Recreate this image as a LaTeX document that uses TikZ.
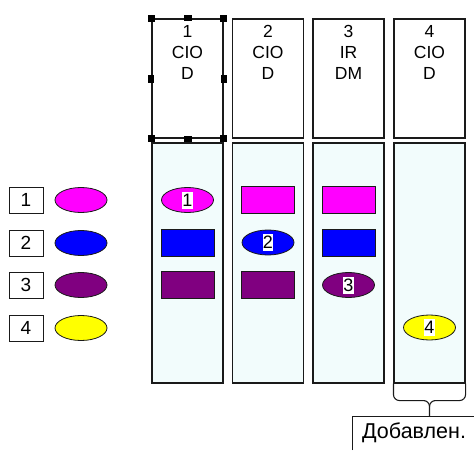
\documentclass[tikz,border=0pt]{standalone}
\usepackage{fontspec}
\setmainfont{Liberation Sans}
\usetikzlibrary{shapes.geometric,calc}
\definecolor{colfill}{HTML}{F2FCFC}
\definecolor{cmag}{HTML}{FF00FF}
\definecolor{cblue}{HTML}{0000FF}
\definecolor{cpurp}{HTML}{800080}
\definecolor{cyel}{HTML}{FFFF00}
\definecolor{lnc}{HTML}{1A1A1A}
\tikzset{
  hdrbox/.style={draw=lnc,line width=1.1pt,minimum width=71pt,minimum height=119pt,inner sep=0pt},
  hdrtext/.style={anchor=north,inner sep=0pt,align=center,font=\fontsize{17.5}{21}\selectfont},
  colbox/.style={draw=lnc,line width=1.1pt,fill=colfill,minimum width=71pt,minimum height=240pt,inner sep=0pt},
  legbox/.style={draw=lnc,line width=0.9pt,minimum width=34pt,minimum height=26pt,inner sep=0pt,font=\fontsize{19}{19}\selectfont},
  oval/.style={ellipse,draw=lnc,line width=0.8pt,minimum width=52pt,minimum height=25pt,inner sep=0pt},
  blk/.style={draw=lnc,line width=0.9pt,minimum width=53pt,minimum height=27pt,inner sep=0pt},
  numtag/.style={fill=white,inner sep=0pt,minimum width=10pt,minimum height=17pt,font=\fontsize{18}{18}\selectfont},
  handle/.style={fill=black,inner sep=0pt,minimum width=7pt,minimum height=7pt},
  mhandle/.style={fill=black,inner sep=0pt,minimum width=8pt,minimum height=6pt},
}
\begin{document}
\begin{tikzpicture}[x=1pt,y=-1pt]
\useasboundingbox (0,0) rectangle (474,450);
% header boxes
\node[hdrbox] (h1) at (187.5,78.5) {};
\node[hdrbox] (h2) at (268,78.5) {};
\node[hdrbox] (h3) at (348.5,78.5) {};
\node[hdrbox] (h4) at (429.5,78.5) {};
\node[hdrtext] (t1) at (187.5,25) {1\\CIO\\D};
\node[hdrtext] (t2) at (268,25) {2\\CIO\\D};
\node[hdrtext] (t3) at (348.5,25) {3\\IR\\DM};
\node[hdrtext] (t4) at (429.5,25) {4\\CIO\\D};
% selection handles
\node[handle] (s1) at (h1.north west) {};
\node[handle] (s2) at (h1.north east) {};
\node[handle] (s3) at (h1.south west) {};
\node[handle] (s4) at (h1.south east) {};
\node[mhandle] (s5) at (h1.north) {};
\node[mhandle] (s6) at (h1.south) {};
\node[mhandle,minimum width=6pt,minimum height=8pt] (s7) at (h1.west) {};
\node[mhandle,minimum width=6pt,minimum height=8pt] (s8) at (h1.east) {};
% columns
\node[colbox] (c1) at (187.5,263) {};
\node[colbox] (c2) at (268,263) {};
\node[colbox] (c3) at (348.5,263) {};
\node[colbox] (c4) at (429.5,263) {};
% legend
\node[legbox] (l1) at (26,200) {1};
\node[legbox] (l2) at (26,243) {2};
\node[legbox] (l3) at (26,285) {3};
\node[legbox] (l4) at (26,328) {4};
\node[oval,fill=cmag] (e1) at (81,200) {};
\node[oval,fill=cblue] (e2) at (81,243) {};
\node[oval,fill=cpurp] (e3) at (81,285) {};
\node[oval,fill=cyel] (e4) at (81,328) {};
% column 1
\node[oval,fill=cmag] (a1) at (187.5,200) {};
\node[numtag] (n1) at (a1) {1};
\node[blk,fill=cblue] (a2) at (187.5,242.5) {};
\node[blk,fill=cpurp] (a3) at (187.5,285) {};
% column 2
\node[blk,fill=cmag] (b1) at (268,200) {};
\node[oval,fill=cblue] (b2) at (268,242.5) {};
\node[numtag] (n2) at (b2) {2};
\node[blk,fill=cpurp] (b3) at (268,285) {};
% column 3
\node[blk,fill=cmag] (d1) at (348.5,200) {};
\node[blk,fill=cblue] (d2) at (348.5,242.5) {};
\node[oval,fill=cpurp] (d3) at (348.5,285) {};
\node[numtag] (n3) at (d3) {3};
% column 4
\node[oval,fill=cyel] (f4) at (429.5,327.5) {};
\node[numtag] (n4) at (f4) {4};
% label
\coordinate (lb) at (352,450);
\coordinate (lt) at (352,416);
\coordinate (lr) at (474,416);
\draw[lnc,line width=1pt] (lb) -- (lt) -- (lr);
\node[anchor=west,inner sep=0pt,font=\fontsize{21.5}{22}\selectfont] (lab) at (362,433) {Добавлен.};
% brace
\coordinate (bm) at (c4.south |- lt);
\draw[lnc,line width=1.1pt] (c4.south west) -- ++(0,11) arc[start angle=180,end angle=90,radius=6]
  -- ($(c4.south)+(-6,17)$) arc[start angle=270,end angle=360,radius=6] -- (bm);
\draw[lnc,line width=1.1pt] (c4.south east) -- ++(0,11) arc[start angle=0,end angle=90,radius=6]
  -- ($(c4.south)+(6,17)$) arc[start angle=270,end angle=180,radius=6];
\end{tikzpicture}
\end{document}
